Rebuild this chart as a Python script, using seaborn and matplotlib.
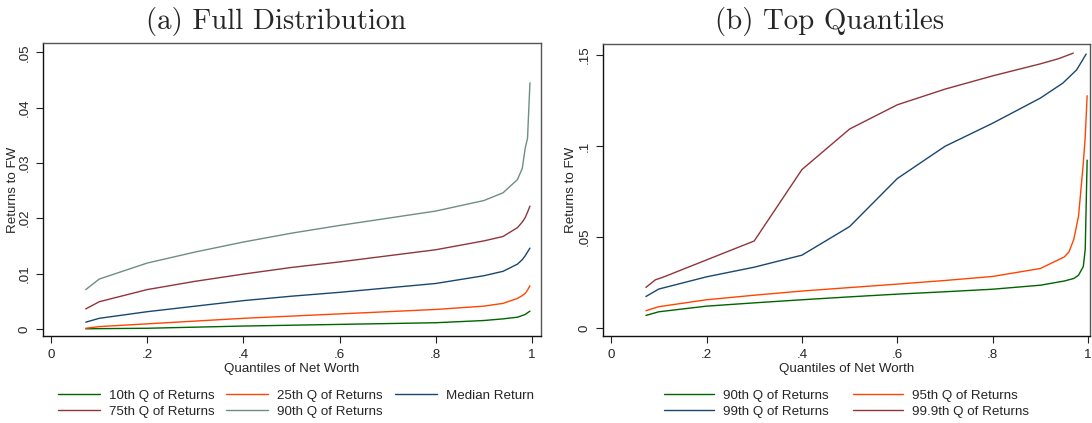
# Returns to FW by quantile of net worth: full distribution vs top quantiles

import pandas as pd
import seaborn as sns
import matplotlib.pyplot as plt

# Panel (a) data
x_full = [0.072, 0.1, 0.2, 0.3, 0.4, 0.5, 0.6, 0.7, 0.8, 0.9, 0.94, 0.97, 0.98, 0.986, 0.991, 0.996]
q10_full = [0.0, 0.00003, 0.0001, 0.0003, 0.0005, 0.00065, 0.0008, 0.00095, 0.0011, 0.0015, 0.0018, 0.0021, 0.0024, 0.0026, 0.0029, 0.0032]
q25_full = [0.0001, 0.0004, 0.0009, 0.0014, 0.0019, 0.0023, 0.0027, 0.0031, 0.0035, 0.0041, 0.0046, 0.0055, 0.0060, 0.0064, 0.0070, 0.0078]
q50_full = [0.0012, 0.0019, 0.0031, 0.0041, 0.0051, 0.0059, 0.0066, 0.0074, 0.0082, 0.0096, 0.0104, 0.0117, 0.0125, 0.0132, 0.0139, 0.0146]
q75_full = [0.0036, 0.0049, 0.0071, 0.0086, 0.0099, 0.0111, 0.0121, 0.0132, 0.0143, 0.0159, 0.0167, 0.0183, 0.0193, 0.0201, 0.0211, 0.0222]
q90_full = [0.0071, 0.0090, 0.0119, 0.0139, 0.0157, 0.0173, 0.0187, 0.0200, 0.0213, 0.0232, 0.0246, 0.0270, 0.0290, 0.0326, 0.0345, 0.0445]

# Panel (b) data
x_top = [0.073, 0.1, 0.2, 0.3, 0.4, 0.5, 0.6, 0.7, 0.8, 0.9, 0.95, 0.96, 0.97, 0.98, 0.99, 0.994, 0.998]
q90_top = [0.0069, 0.0089, 0.0120, 0.0138, 0.0155, 0.0171, 0.0186, 0.0199, 0.0213, 0.0235, 0.0258, 0.0265, 0.0272, 0.0290, 0.0338, 0.0432, 0.0922]
q95_top = [0.0095, 0.0117, 0.0155, 0.0180, 0.0203, 0.0222, 0.0241, 0.0261, 0.0283, 0.0327, 0.0390, 0.0418, 0.0487, 0.0615, 0.0907, 0.1050, 0.1276]
x_top99 = [0.073, 0.1, 0.2, 0.3, 0.4, 0.5, 0.6, 0.7, 0.8, 0.9, 0.947, 0.976, 0.996]
q99_top = [0.0173, 0.0214, 0.0281, 0.0334, 0.0400, 0.0557, 0.0821, 0.0998, 0.1125, 0.1263, 0.1345, 0.1418, 0.1505]
x_top999 = [0.073, 0.093, 0.107, 0.3, 0.4, 0.5, 0.6, 0.7, 0.8, 0.9, 0.939, 0.969]
q999_top = [0.0223, 0.0265, 0.0277, 0.0478, 0.0870, 0.1093, 0.1226, 0.1312, 0.1385, 0.1451, 0.1480, 0.1510]

left_names = ['10th Q of Returns', '25th Q of Returns', 'Median Return',
              '75th Q of Returns', '90th Q of Returns']
right_names = ['90th Q of Returns', '95th Q of Returns', '99th Q of Returns',
               '99.9th Q of Returns']

left_yticks = [0, 0.01, 0.02, 0.03, 0.04, 0.05]
left_ylabels = ['0', '.01', '.02', '.03', '.04', '.05']
right_yticks = [0, 0.05, 0.1, 0.15]
right_ylabels = ['0', '.05', '.1', '.15']
xticks = [0, 0.2, 0.4, 0.6, 0.8, 1]
xlabels = ['0', '.2', '.4', '.6', '.8', '1']

green, orange, navy, maroon, teal = '#006400', '#ff4500', '#1a476f', '#90353b', '#6e8e84'

# long tables for seaborn
rows = []
for name, ys in zip(left_names, [q10_full, q25_full, q50_full, q75_full, q90_full]):
    rows += [(name, x, y) for x, y in zip(x_full, ys)]
df_left = pd.DataFrame(rows, columns=['series', 'q', 'ret'])

rows = []
for name, xs, ys in zip(right_names, [x_top, x_top, x_top99, x_top999],
                        [q90_top, q95_top, q99_top, q999_top]):
    rows += [(name, x, y) for x, y in zip(xs, ys)]
df_right = pd.DataFrame(rows, columns=['series', 'q', 'ret'])

sns.set_style('ticks')
plt.rcParams['font.family'] = ['Liberation Sans', 'DejaVu Sans']
plt.rcParams['font.size'] = 9.6

fig = plt.figure(figsize=(10.92, 4.23), dpi=100)
ax1 = fig.add_axes([43 / 1092, 1 - 336 / 423, 498 / 1092, 293 / 423])
ax2 = fig.add_axes([603 / 1092, 1 - 336 / 423, 487 / 1092, 292 / 423])

sns.lineplot(data=df_left, x='q', y='ret', hue='series', hue_order=left_names,
             palette=[green, orange, navy, maroon, teal], sort=False,
             estimator=None, linewidth=1.0, legend=False, ax=ax1)
sns.lineplot(data=df_right, x='q', y='ret', hue='series', hue_order=right_names,
             palette=[green, orange, navy, maroon], sort=False,
             estimator=None, linewidth=1.0, legend=False, ax=ax2)

ax1.set_xlim(-0.017, 1.019)
ax1.set_ylim(-0.0013, 0.0517)
ax2.set_xlim(-0.017, 1.004)
ax2.set_ylim(-0.0044, 0.156)

for ax, yt, yl, ylpos in [(ax1, left_yticks, left_ylabels, -0.049),
                          (ax2, right_yticks, right_ylabels, -0.054)]:
    ax.set_xticks(xticks)
    ax.set_xticklabels(xlabels)
    ax.set_yticks(yt)
    ax.set_yticklabels(yl, rotation=90, va='center')
    ax.tick_params(length=5, width=0.8, color='#222222', pad=4, labelsize=9.6)
    ax.set_xlabel('Quantiles of Net Worth', fontsize=9.6, labelpad=2)
    ax.set_ylabel('Returns to FW', fontsize=9.6)
    ax.yaxis.set_label_coords(ylpos, 0.5)
    for side in ['left', 'bottom']:
        ax.spines[side].set_color('#111111')
        ax.spines[side].set_linewidth(1.0)
    for side in ['top', 'right']:
        ax.spines[side].set_visible(True)
        ax.spines[side].set_color('#555555')
        ax.spines[side].set_linewidth(1.0)

fig.text(0.253, 0.948, '(a) Full Distribution', family='cmr10', fontsize=20.8,
         ha='center', va='center')
fig.text(0.76, 0.948, '(b) Top Quantiles', family='cmr10', fontsize=20.8,
         ha='center', va='center')

# legends, row-major like the reference
lines1 = dict(zip(left_names, ax1.get_lines()))
order1 = [left_names[i] for i in [0, 3, 1, 4, 2]]
fig.legend([lines1[n] for n in order1], order1, ncol=3, loc='center',
           bbox_to_anchor=(0.271, 0.046), frameon=False, fontsize=9.6,
           handlelength=3.15, handletextpad=0.68, columnspacing=0.9,
           labelspacing=0.3, borderpad=0)

lines2 = dict(zip(right_names, ax2.get_lines()))
order2 = [right_names[i] for i in [0, 2, 1, 3]]
fig.legend([lines2[n] for n in order2], order2, ncol=2, loc='center',
           bbox_to_anchor=(0.775, 0.046), frameon=False, fontsize=9.6,
           handlelength=3.75, handletextpad=0.68, columnspacing=1.8,
           labelspacing=0.3, borderpad=0)

fig.savefig('out.png', dpi=100)
